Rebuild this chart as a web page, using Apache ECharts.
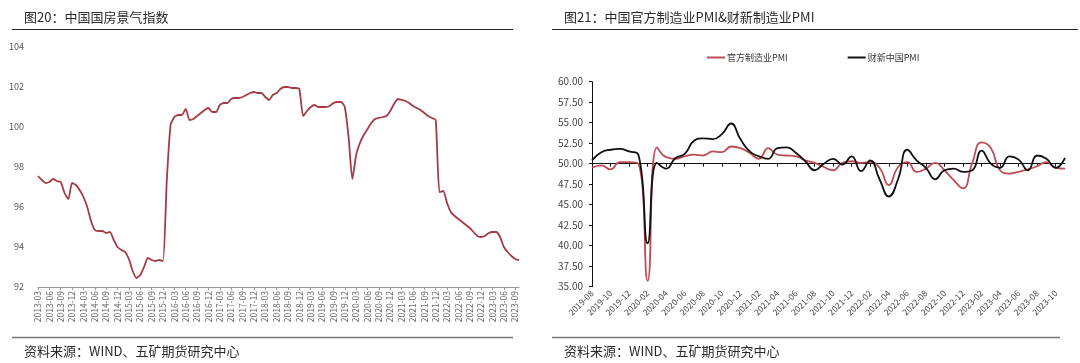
<!DOCTYPE html>
<html>
<head>
<meta charset="utf-8">
<script src="https://cdn.jsdelivr.net/npm/echarts@6/dist/echarts.min.js"></script>
<style>
html,body{margin:0;padding:0;background:#fff;}
#c{width:1080px;height:363px;}
</style>
</head>
<body>
<div id="c"></div>
<script>
// ---------- DATA ----------
const leftTitle = '图20：中国国房景气指数';
const rightTitle = '图21：中国官方制造业PMI&财新制造业PMI';
const sourceText = '资料来源：WIND、五矿期货研究中心';

function monthRange(y0, m0, y1, m1) {
  const out = [];
  let y = y0, m = m0;
  while (y < y1 || (y === y1 && m <= m1)) {
    out.push(y + '-' + (m < 10 ? '0' + m : m));
    m++; if (m > 12) { m = 1; y++; }
  }
  return out;
}
const leftMonths = monthRange(2013, 3, 2023, 10);
const housingIndex = [
  97.55,97.35,97.2,97.25,97.4,97.3,97.25,96.7,96.4,97.2,
  97.1,96.85,96.5,96.0,95.3,94.85,94.8,94.8,94.7,94.75,
  94.35,94.0,93.85,93.75,93.4,92.8,92.45,92.6,93.0,93.45,
  93.35,93.3,93.35,93.3,97.3,100.1,100.5,100.6,100.6,100.9,
  100.35,100.4,100.55,100.7,100.85,100.95,100.75,100.75,101.1,101.2,
  101.2,101.4,101.45,101.45,101.5,101.6,101.7,101.75,101.7,101.7,
  101.5,101.35,101.6,101.7,101.9,102.0,102.0,101.95,101.95,101.9,
  100.55,100.8,101.0,101.1,101.0,101.0,101.0,101.05,101.2,101.25,
  101.25,101.0,99.5,97.4,98.6,99.2,99.6,99.9,100.2,100.4,
  100.45,100.5,100.55,100.8,101.15,101.4,101.35,101.3,101.2,101.05,
  100.95,100.85,100.7,100.55,100.45,100.35,96.75,96.8,96.2,95.75,
  95.55,95.4,95.25,95.1,94.95,94.75,94.55,94.5,94.55,94.7,
  94.75,94.75,94.5,94.0,93.75,93.55,93.4,93.35
];

const rightMonths = monthRange(2019, 8, 2023, 11);
const officialName = '官方制造业PMI';
const caixinName = '财新中国PMI';
const officialPMI = [
  49.5,49.8,49.3,50.2,50.2,
  50.0,35.7,52.0,50.8,50.6,50.9,51.1,51.0,51.5,51.4,52.1,51.9,
  51.3,50.6,51.9,51.1,51.0,50.9,50.4,50.1,49.6,49.2,50.1,50.3,
  50.1,50.2,49.5,47.4,49.6,50.2,49.0,49.4,50.1,49.2,48.0,47.0,
  50.1,52.6,51.9,49.2,48.8,49.0,49.3,49.7,50.2,49.5,49.4
];
const caixinPMI = [
  50.4,51.4,51.7,51.8,51.5,
  51.1,40.3,50.1,49.4,50.7,51.2,52.8,53.1,53.0,53.6,54.9,53.0,
  51.5,50.9,50.6,51.9,52.0,51.3,50.3,49.2,50.0,50.6,49.9,50.9,
  49.1,50.4,48.1,46.0,48.1,51.7,50.4,49.5,48.1,49.2,49.4,49.0,
  49.2,51.6,50.0,49.5,50.9,50.5,49.2,51.0,50.6,49.5,50.7
];

// ---------- CHART ----------
const FONT = '"Noto Sans CJK SC", "Noto Sans", sans-serif';
const chart = echarts.init(document.getElementById('c'), null, {renderer: 'canvas'});

const rightGridTop = 81.7, rightGridBottom = 363 - 286.7;
const rightGridH = 363 - rightGridTop - rightGridBottom;
const fiftyOffset = -rightGridH * (50 - 35) / (60 - 35);

chart.setOption({
  animation: false,
  backgroundColor: '#fff',
  textStyle: {fontFamily: FONT},
  title: [
    {text: leftTitle, left: 19, top: 6, textStyle: {fontSize: 13, fontWeight: 'normal', color: '#2a2a2a', fontFamily: FONT}},
    {text: rightTitle, left: 559, top: 6, textStyle: {fontSize: 13, fontWeight: 'normal', color: '#2a2a2a', fontFamily: FONT}},
    {text: sourceText, left: 19, top: 340, textStyle: {fontSize: 13, fontWeight: 'normal', color: '#2a2a2a', fontFamily: FONT}},
    {text: sourceText, left: 559, top: 340, textStyle: {fontSize: 13, fontWeight: 'normal', color: '#2a2a2a', fontFamily: FONT}}
  ],
  graphic: [
    {type: 'line', shape: {x1: 12, y1: 29.5, x2: 513, y2: 29.5}, style: {stroke: '#222', lineWidth: 1}},
    {type: 'line', shape: {x1: 552, y1: 29.5, x2: 1078, y2: 29.5}, style: {stroke: '#222', lineWidth: 1}},
    {type: 'line', shape: {x1: 12, y1: 337.5, x2: 513, y2: 337.5}, style: {stroke: '#777', lineWidth: 1.5}},
    {type: 'line', shape: {x1: 552, y1: 337.5, x2: 1060, y2: 337.5}, style: {stroke: '#777', lineWidth: 1.5}}
  ],
  legend: {
    left: 702, top: 48,
    icon: 'rect', itemWidth: 18, itemHeight: 2, itemGap: 60,
    textStyle: {fontSize: 9, color: '#333', fontFamily: FONT, padding: [0, 0, 0, -3]},
    data: [officialName, caixinName]
  },
  grid: [
    {left: 38, right: 1080 - 519, top: 47, bottom: 363 - 287},
    {left: 592, right: 1080 - 1065, top: rightGridTop, bottom: rightGridBottom}
  ],
  xAxis: [
    {
      gridIndex: 0, type: 'category', data: leftMonths, boundaryGap: false,
      axisLine: {lineStyle: {color: '#999', width: 1}},
      axisTick: {interval: 2, length: 3, lineStyle: {color: '#999'}},
      axisLabel: {interval: 2, rotate: 90, fontSize: 8.5, color: '#666', margin: 4}
    },
    {
      gridIndex: 1, type: 'category', data: rightMonths, boundaryGap: false,
      axisLine: {show: false}, axisTick: {show: false},
      axisLabel: {interval: 1, rotate: 45, fontSize: 8.5, color: '#444', margin: 5}
    },
    {
      gridIndex: 1, type: 'category', data: rightMonths, boundaryGap: false,
      position: 'bottom', offset: fiftyOffset,
      axisLine: {show: true, lineStyle: {color: '#111', width: 1}},
      axisTick: {show: true, interval: 1, length: 3, lineStyle: {color: '#111'}},
      axisLabel: {show: false}
    }
  ],
  yAxis: [
    {
      gridIndex: 0, type: 'value', min: 92, max: 104, interval: 2,
      axisLine: {show: false}, axisTick: {show: false}, splitLine: {show: false},
      axisLabel: {fontSize: 9, color: '#555', margin: 14}
    },
    {
      gridIndex: 1, type: 'value', min: 35, max: 60, interval: 2.5,
      axisLine: {show: true, lineStyle: {color: '#111', width: 1}},
      axisTick: {show: true, length: 3, lineStyle: {color: '#111'}},
      splitLine: {show: false},
      axisLabel: {fontSize: 10, color: '#444', margin: 9, formatter: v => v.toFixed(2)}
    }
  ],
  series: [
    {
      type: 'line', xAxisIndex: 0, yAxisIndex: 0, data: housingIndex,
      showSymbol: false, smooth: 0.2,
      lineStyle: {color: '#A63A44', width: 1.8}, itemStyle: {color: '#A63A44'}
    },
    {
      name: officialName, type: 'line', xAxisIndex: 1, yAxisIndex: 1, data: officialPMI,
      showSymbol: false, smooth: 0.5,
      lineStyle: {color: '#BE4B55', width: 1.8}, itemStyle: {color: '#BE4B55'}
    },
    {
      name: caixinName, type: 'line', xAxisIndex: 1, yAxisIndex: 1, data: caixinPMI,
      showSymbol: false, smooth: 0.5,
      lineStyle: {color: '#111', width: 1.8}, itemStyle: {color: '#111'}
    }
  ]
});
</script>
</body>
</html>
